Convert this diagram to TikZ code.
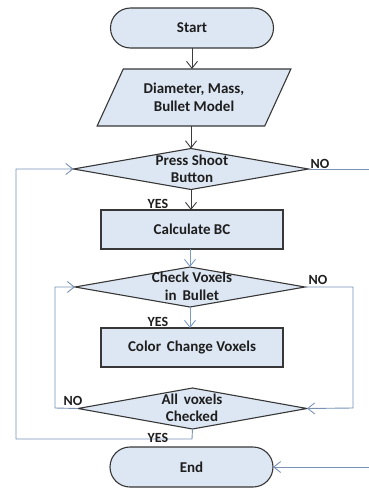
\documentclass[tikz,border=0pt]{standalone}
\usepackage{fontspec}
\setmainfont{Carlito}
\usetikzlibrary{shapes.geometric,shapes.misc,arrows.meta}
\definecolor{boxfill}{RGB}{221,231,243}
\definecolor{boxline}{RGB}{55,55,55}
\definecolor{darkline}{RGB}{60,60,60}
\definecolor{blueline}{RGB}{125,155,200}
\definecolor{loopline}{RGB}{120,145,180}
\definecolor{txt}{RGB}{30,30,30}
\tikzset{
  x=1pt,y=-1pt,
  shp/.style={draw=boxline,fill=boxfill,line width=1.1pt,inner sep=0pt,outer sep=0pt},
  term/.style={shp,rounded rectangle,minimum width=163pt,minimum height=40pt},
  proc/.style={shp,rectangle,minimum width=182pt,minimum height=39pt},
  iobox/.style={shp,trapezium,trapezium left angle=59,trapezium right angle=121,
     trapezium stretches=true,minimum width=194pt,minimum height=57pt,inner sep=2pt,
     font=\fontsize{15}{17.5}\selectfont\bfseries,text=txt,align=center},
  dec/.style={shp,diamond},
  lbl/.style={font=\fontsize{15}{17.5}\selectfont\bfseries,text=txt,align=center,inner sep=0pt},
  yn/.style={font=\fontsize{14}{16}\selectfont\bfseries,text=txt,inner sep=0pt},
  arr/.style={-{Straight Barb[length=7pt,width=11pt]},line width=0.9pt},
  dk/.style={arr,draw=darkline},
  bl/.style={arr,draw=blueline},
  lp/.style={arr,draw=loopline},
}
\begin{document}
\begin{tikzpicture}
\useasboundingbox (0,0) rectangle (368,488);
\node[term] (start) at (192,28) {};
\node[lbl] (starttxt) at (start) {Start};
\node[iobox] (param) at (194,97.5) {Diameter, Mass,\\Bullet Model};
\node[dec,minimum width=235pt,minimum height=41pt] (d1) at (191,169) {};
\node[lbl] (d1txt) at (192,169) {Press Shoot\\Button};
\node[proc] (box1) at (192,229.5) {};
\node[lbl] (box1txt) at (box1) {Calculate BC};
\node[dec,minimum width=230pt,minimum height=40pt] (d2) at (190,287) {};
\node[lbl] (d2txt) at (192,286.5) {Check Voxels\\in\, Bullet};
\node[proc] (box2) at (192,347.5) {};
\node[lbl] (box2txt) at (box2) {Color\, Change Voxels};
\node[dec,minimum width=229pt,minimum height=41pt] (d3) at (192.5,408.5) {};
\node[lbl] (d3txt) at (192,408) {All\, voxels\\Checked};
\node[term] (end) at (191.5,467) {};
\node[lbl] (endtxt) at (end) {End};

\coordinate (r1) at (372,169);
\coordinate (r2) at (372,467);
\coordinate (a1) at (353,287);
\coordinate (a2) at (353,408);
\coordinate (b1) at (55,408);
\coordinate (b2) at (55,287);
\coordinate (c1) at (192,439);
\coordinate (c2) at (16,439);
\coordinate (c3) at (16,169);

\draw[dk] (start.south) -- (start.south |- param.north);
\draw[dk] (d1.north |- param.south) -- (d1.north);
\draw[dk] (d1.south) -- (box1.north -| d1.south);
\draw[bl] (box1.south -| d2.north) -- (d2.north);
\draw[bl] (d2.south) -- (box2.north -| d2.south);
\draw[lp] (d2.east) -- (a1) -- (a2) -- (d3.east);
\draw[lp] (d3.west) -- (b1) -- (b2) -- (d2.west);
\draw[lp] (d3.south) -- (c1) -- (c2) -- (c3) -- (d1.west);
\draw[lp] (d1.east) -- (r1) -- (r2) -- (end.east);

\node[yn] (no1) at (320,164) {NO};
\node[yn] (yes1) at (158,204) {YES};
\node[yn] (no2) at (318,280) {NO};
\node[yn] (yes2) at (158,322) {YES};
\node[yn] (no3) at (73,401) {NO};
\node[yn] (yes3) at (158,438) {YES};
\end{tikzpicture}
\end{document}
